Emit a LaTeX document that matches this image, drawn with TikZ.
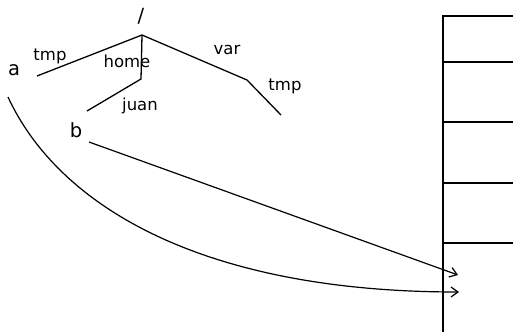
\documentclass[tikz,border=0pt]{standalone}
\usepackage{fontspec}
\setmainfont{DejaVu Sans}
\usetikzlibrary{arrows.meta}
\begin{document}
\begin{tikzpicture}[x=1pt,y=-1pt,
  lbl/.style={inner sep=0pt,font=\fontsize{16.5}{18}\selectfont},
  big/.style={inner sep=0pt,font=\fontsize{19.5}{22}\selectfont},
  edge/.style={line width=1.3pt},
  ptr/.style={line width=1.2pt,-{Straight Barb[length=7pt,width=10pt,line width=1.2pt]}},
  cell/.style={line width=1.3pt}]
\useasboundingbox (0,0) rectangle (513,332);
% tree labels
\node[big] (slash) at (141,16) {/};
\node[big] (a) at (14,70) {a};
\node[big] (b) at (76,130) {b};
\node[lbl] (ltmp) at (50,56) {tmp};
\node[lbl] (lhome) at (127,61) {home};
\node[lbl] (lvar) at (227,50) {var};
\node[lbl] (ltmp2) at (285,86) {tmp};
\node[lbl] (ljuan) at (140,106) {juan};
% tree points
\coordinate (root) at (142,35);
\coordinate (tmpend) at (37,76);
\coordinate (homeend) at (141,79);
\coordinate (varend) at (247,80);
\coordinate (vtmpend) at (281,115);
\coordinate (juanend) at (87,111);
\draw[edge] (tmpend) -- (root) -- (varend) -- (vtmpend);
\draw[edge] (root) -- (homeend) -- (juanend);
% memory box
\coordinate (boxtl) at (443,16);
\coordinate (boxbl) at (443,332);
\coordinate (boxtr) at (513,16);
\draw[cell] (boxtr) -- (boxtl) -- (boxbl);
\foreach \yy/\nm in {62/r1,122/r2,183/r3,243/r4}{
  \coordinate (\nm l) at (443,\yy);
  \coordinate (\nm r) at (513,\yy);
  \draw[cell] (\nm l) -- (\nm r);
}
% pointers
\coordinate (astart) at (8,97);
\coordinate (bstart) at (89,142);
\coordinate (atgt) at (459,292);
\coordinate (btgt) at (458,275);
\draw[ptr] (astart) .. controls (58,205) and (200,292) .. (atgt);
\draw[ptr] (bstart) -- (btgt);
\end{tikzpicture}
\end{document}
